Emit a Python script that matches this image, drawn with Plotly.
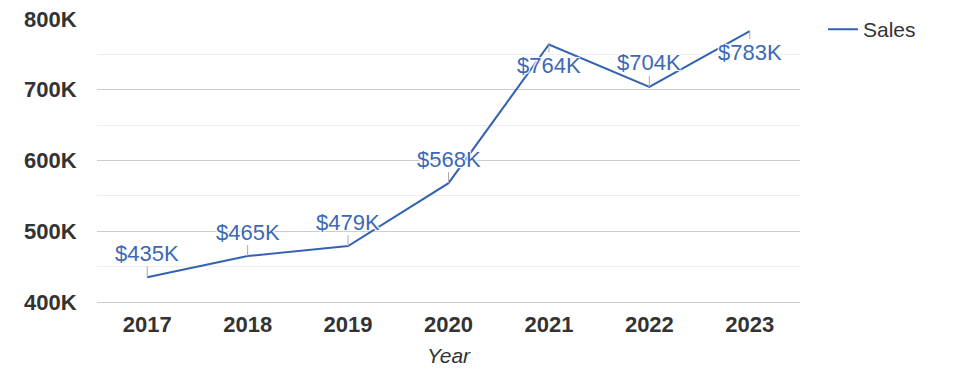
import plotly.graph_objects as go

years = ["2017", "2018", "2019", "2020", "2021", "2022", "2023"]
sales = [435000, 465000, 479000, 568000, 764000, 704000, 783000]
labels = ["$435K", "$465K", "$479K", "$568K", "$764K", "$704K", "$783K"]
y_tickvals = [400000, 500000, 600000, 700000, 800000]
y_ticktext = ["400K", "500K", "600K", "700K", "800K"]
below_years = {"2021", "2023"}

LINE = "#3462b2"
LABEL = "#3b69b6"
FONT = "Liberation Sans, Arial, sans-serif"

fig = go.Figure()
fig.add_trace(go.Scatter(
    x=years, y=sales, mode="lines", name="Sales",
    line=dict(color=LINE, width=2),
))

for i, (yr, v, lab) in enumerate(zip(years, sales, labels)):
    off = 21 if yr in below_years else -24
    fig.add_annotation(
        x=i, y=v, xref="x", yref="y", text=lab.replace("$", "&#36;"),
        showarrow=True, ax=0, ay=off,
        arrowhead=0, arrowwidth=1, arrowcolor="#aaaaaa", standoff=0,
        font=dict(family=FONT, size=22, color=LABEL, shadow="auto"),
        borderpad=0,
    )

fig.update_layout(
    width=975, height=378,
    margin=dict(l=97, r=175, t=19, b=76, autoexpand=False),
    paper_bgcolor="white", plot_bgcolor="white",
    font=dict(family=FONT, color="#333333"),
    showlegend=True,
    legend=dict(x=1.0327, y=1.035, xanchor="left", yanchor="top",
                font=dict(family=FONT, size=21, color="#333333"),
                bgcolor="rgba(0,0,0,0)"),
    xaxis=dict(
        type="category", range=[-0.5, 6.5],
        showgrid=False, showline=True, linecolor="#cccccc", linewidth=1,
        ticks="outside", ticklen=3, tickcolor="rgba(0,0,0,0)",
        tickfont=dict(family=FONT, size=22, color="#333333", weight="bold"),
        title=dict(text="<i>Year</i>", font=dict(family=FONT, size=21, color="#333333"), standoff=11),
        zeroline=False,
    ),
    yaxis=dict(
        range=[400000, 800000], tickvals=y_tickvals, ticktext=y_ticktext,
        showgrid=True, gridcolor="#cccccc", gridwidth=1,
        minor=dict(dtick=50000, tick0=400000, showgrid=True, gridcolor="#eeeeee", gridwidth=1),
        ticks="outside", ticklen=15, tickcolor="rgba(0,0,0,0)",
        tickfont=dict(family=FONT, size=22, color="#333333", weight="bold"),
        zeroline=False, showline=False,
    ),
)

fig.write_html("out.html", config={"displayModeBar": False},
               post_script="document.body.style.margin='0';document.body.style.overflow='hidden';")
